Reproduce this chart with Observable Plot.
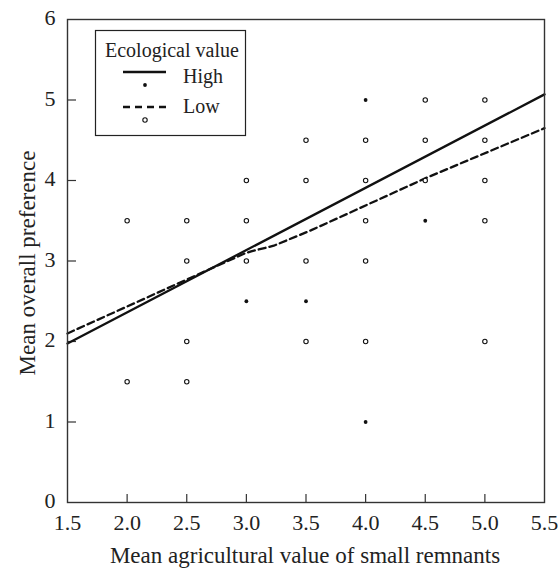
<!DOCTYPE html>
<html>
<head>
<meta charset="utf-8">
<script src="https://cdn.jsdelivr.net/npm/d3@7"></script>
<script src="https://cdn.jsdelivr.net/npm/@observablehq/plot@0.6"></script>
<style>
  html, body { margin: 0; padding: 0; background: #fff; }
  #chart svg { display: block; }
</style>
</head>
<body>
<div id="chart"></div>
<script>
// ---- Data ----
const xTicks = [1.5, 2.0, 2.5, 3.0, 3.5, 4.0, 4.5, 5.0, 5.5];
const yTicks = [0, 1, 2, 3, 4, 5, 6];
const xInnerTicks = [2.0, 2.5, 3.0, 3.5, 4.0, 4.5, 5.0];
const yInnerTicks = [1, 2, 3, 4, 5];

// High ecological value (filled dots)
const highX = [3.0, 3.5, 4.0, 4.0, 4.5];
const highY = [2.5, 2.5, 5.0, 1.0, 3.5];

// Low ecological value (open circles)
const lowX = [2.0, 2.0, 2.5, 2.5, 2.5, 2.5, 3.0, 3.0, 3.0, 3.5, 3.5, 3.5, 3.5,
              4.0, 4.0, 4.0, 4.0, 4.0, 4.5, 4.5, 4.5, 5.0, 5.0, 5.0, 5.0, 5.0];
const lowY = [3.5, 1.5, 3.5, 3.0, 2.0, 1.5, 4.0, 3.5, 3.0, 4.5, 4.0, 3.0, 2.0,
              4.5, 4.0, 3.5, 3.0, 2.0, 5.0, 4.5, 4.0, 5.0, 4.5, 4.0, 3.5, 2.0];

// Fitted lines
const highLineX = [1.5, 5.5];
const highLineY = [1.975, 5.07];
const lowLineX = [1.5, 2.62, 2.98, 3.04, 3.23, 3.54, 4.52, 5.5];
const lowLineY = [2.10, 2.85, 3.09, 3.12, 3.19, 3.38, 4.04, 4.65];

const xTitle = "Mean agricultural value of small remnants";
const yTitle = "Mean overall preference";
const legendTitle = "Ecological value";
const legendLabels = ["High", "Low"];

// ---- Tables ----
const highPts = highX.map((x, i) => ({x, y: highY[i]}));
const lowPts = lowX.map((x, i) => ({x, y: lowY[i]}));
const highLine = highLineX.map((x, i) => ({x, y: highLineY[i]}));
const lowLine = lowLineX.map((x, i) => ({x, y: lowLineY[i]}));

const W = 558, H = 568;
const mL = 67, mT = 19, mR = 14, mB = 66;
const frameW = W - mL - mR, frameH = H - mT - mB;
const font = "'Liberation Serif', 'DejaVu Serif', serif";

const chart = Plot.plot({
  width: W,
  height: H,
  marginLeft: mL,
  marginTop: mT,
  marginRight: mR,
  marginBottom: mB,
  style: {fontFamily: font, fontSize: "22px", color: "#111", background: "#fff"},
  x: {domain: [1.5, 5.5]},
  y: {domain: [0, 6]},
  marks: [
    Plot.axisX({ticks: xTicks, tickFormat: d => d.toFixed(1), tickSize: 0, tickPadding: 12, label: null, fill: "#222", fontSize: 22}),
    Plot.axisY({ticks: yTicks, tickFormat: d => String(d), tickSize: 0, tickPadding: 12, label: null, fill: "#222", fontSize: 22, dy: -1.5}),
    Plot.tickX(xInnerTicks, {x: d => d, insetTop: frameH - 8, stroke: "#333", strokeWidth: 1.2}),
    Plot.tickY(yInnerTicks, {y: d => d, insetRight: frameW - 9, stroke: "#333", strokeWidth: 1.2}),
    Plot.line(highLine, {x: "x", y: "y", stroke: "#111", strokeWidth: 2.3}),
    Plot.line(lowLine, {x: "x", y: "y", stroke: "#111", strokeWidth: 2.3, strokeDasharray: "7,4"}),
    Plot.dot(lowPts, {x: "x", y: "y", r: 2.2, stroke: "#111", strokeWidth: 1.1, fill: "#fff"}),
    Plot.dot(highPts, {x: "x", y: "y", r: 1.9, fill: "#111", stroke: "none"}),
    Plot.frame({stroke: "#333", strokeWidth: 1.4}),
    Plot.text([xTitle], {text: d => d, frameAnchor: "bottom", textAnchor: "middle", dx: -1, dy: 53.5, fontSize: 23, fill: "#222", lineAnchor: "middle"}),
    Plot.text([yTitle], {text: d => d, frameAnchor: "left", textAnchor: "middle", dx: -40, dy: 2, rotate: -90, fontSize: 23, fill: "#222", lineAnchor: "middle"})
  ]
});

document.getElementById("chart").appendChild(chart);

// ---- Legend ----
const svg = d3.select(chart);
const g = svg.append("g").attr("font-family", font).attr("fill", "#222").attr("text-anchor", "start");
g.append("rect").attr("x", 95.5).attr("y", 30.5).attr("width", 150).attr("height", 105)
  .attr("fill", "#fff").attr("stroke", "#222").attr("stroke-width", 1.2);
g.append("text").attr("x", 105).attr("y", 57).attr("font-size", 20).text(legendTitle);
g.append("line").attr("x1", 123).attr("x2", 166).attr("y1", 72).attr("y2", 72)
  .attr("stroke", "#111").attr("stroke-width", 2.3);
g.append("circle").attr("cx", 145).attr("cy", 85).attr("r", 1.9).attr("fill", "#111");
g.append("text").attr("x", 183).attr("y", 83).attr("font-size", 20).text(legendLabels[0]);
g.append("line").attr("x1", 123).attr("x2", 166).attr("y1", 107).attr("y2", 107)
  .attr("stroke", "#111").attr("stroke-width", 2.3).attr("stroke-dasharray", "7,5");
g.append("circle").attr("cx", 145).attr("cy", 120).attr("r", 2.2).attr("fill", "#fff")
  .attr("stroke", "#111").attr("stroke-width", 1.1);
g.append("text").attr("x", 183).attr("y", 113).attr("font-size", 20).text(legendLabels[1]);
</script>
</body>
</html>
